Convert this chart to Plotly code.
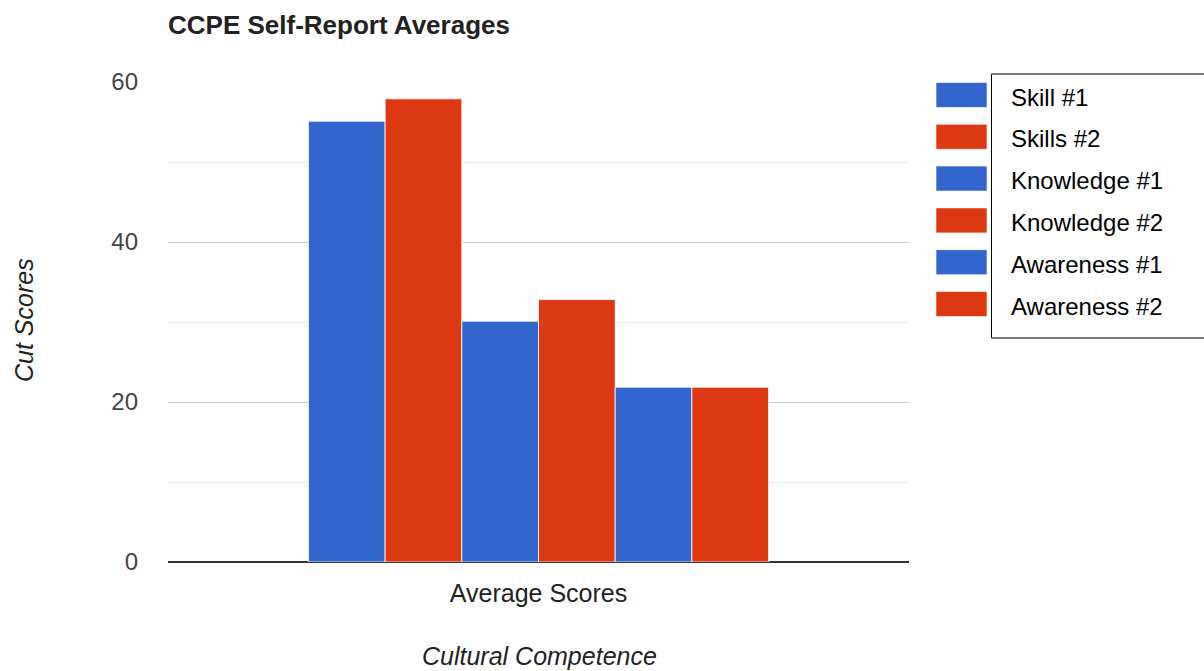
import plotly.graph_objects as go

categories = ["Average Scores"]
series_names = ["Skill #1", "Skills #2", "Knowledge #1", "Knowledge #2", "Awareness #1", "Awareness #2"]
series_values = [[55.1], [57.9], [30.1], [32.8], [21.85], [21.85]]
series_colors = ["#3366cc", "#dc3912", "#3366cc", "#dc3912", "#3366cc", "#dc3912"]
y_ticks = [0, 20, 40, 60]

W, H = 1204, 671
L, R, T, B = 168, 909, 82, 562
FONT = "Liberation Sans, Arial"

def px(x):
    return (x - L) / (R - L)

def py(y):
    return (B - y) / (B - T)

fig = go.Figure()
for name, vals, col in zip(series_names, series_values, series_colors):
    fig.add_trace(go.Bar(x=categories, y=vals, name=name,
                         marker=dict(color=col, line=dict(color="rgba(255,255,255,0.8)", width=1)),
                         showlegend=False))

shapes = []
annotations = []
# legend box
shapes.append(dict(type="rect", xref="paper", yref="paper",
                   x0=px(991.5), x1=px(1205), y0=py(74), y1=py(338),
                   line=dict(color="#000000", width=1), fillcolor="rgba(0,0,0,0)"))
for i, (name, col) in enumerate(zip(series_names, series_colors)):
    cy = 95 + i * 41.8
    shapes.append(dict(type="rect", xref="paper", yref="paper",
                       x0=px(936), x1=px(987), y0=py(cy - 12.5), y1=py(cy + 12.5),
                       line=dict(color="rgba(255,255,255,0.6)", width=1), fillcolor=col))
    annotations.append(dict(xref="paper", yref="paper", x=px(1009), y=py(cy + 2),
                            xanchor="left", yanchor="middle", showarrow=False, text=name,
                            font=dict(family=FONT, size=24, color="#000000")))

annotations.append(dict(xref="paper", yref="paper", x=px(24), y=py(320), textangle=-90,
                        xanchor="center", yanchor="middle", showarrow=False,
                        text="<i>Cut Scores</i>",
                        font=dict(family=FONT, size=25, color="#222222")))
annotations.append(dict(xref="paper", yref="paper", x=px(539), y=py(656),
                        xanchor="center", yanchor="middle", showarrow=False,
                        text="<i>Cultural Competence</i>",
                        font=dict(family=FONT, size=25, color="#222222")))
annotations.append(dict(xref="paper", yref="paper", x=px(166), y=py(25),
                        xanchor="left", yanchor="middle", showarrow=False,
                        text="<b>CCPE Self-Report Averages</b>",
                        font=dict(family=FONT, size=26, color="#222222")))

fig.update_layout(
    width=W, height=H,
    margin=dict(l=L, r=W - R, t=T, b=H - B, pad=0),
    paper_bgcolor="white", plot_bgcolor="white",
    barmode="group", bargap=0.379, bargroupgap=0.0,
    shapes=shapes, annotations=annotations,
    font=dict(family=FONT, size=24, color="#444444"),
    xaxis=dict(showgrid=False, showline=False, ticks="", tickfont=dict(size=25, color="#222222"),
               ticklabelstandoff=14, fixedrange=True),
    yaxis=dict(range=[0, 60], tickvals=y_ticks, ticktext=[str(v) for v in y_ticks],
               showgrid=True, gridcolor="#cccccc", gridwidth=1,
               minor=dict(dtick=10, tick0=0, showgrid=True, gridcolor="#ebebeb", gridwidth=1),
               zeroline=True, zerolinecolor="#333333", zerolinewidth=1.5,
               showline=False, ticks="", ticklabelstandoff=29,
               tickfont=dict(size=24, color="#444444"), fixedrange=True),
)

fig.write_html("out.html")
